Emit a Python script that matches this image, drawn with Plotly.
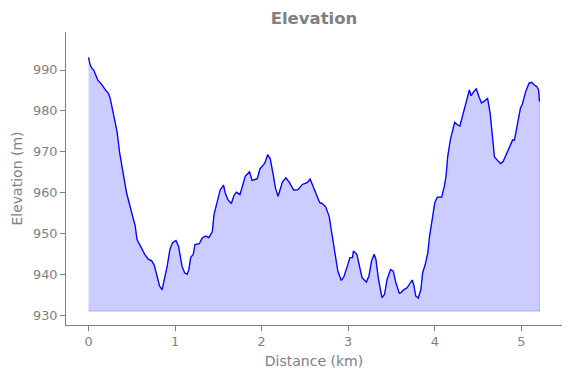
import plotly.graph_objects as go

distance_km = [0.00, 0.02, 0.04, 0.06, 0.09, 0.11, 0.14, 0.17, 0.20, 0.23, 0.25, 0.29, 0.33, 0.36,
               0.40, 0.44, 0.50, 0.54, 0.56, 0.60, 0.65, 0.69, 0.73, 0.76, 0.79, 0.82, 0.85, 0.87,
               0.91, 0.94, 0.97, 1.01, 1.04, 1.08, 1.11, 1.14, 1.16, 1.18, 1.21, 1.23, 1.28, 1.31,
               1.35, 1.39, 1.41, 1.43, 1.45, 1.48, 1.52, 1.56, 1.58, 1.61, 1.65, 1.68, 1.71, 1.75,
               1.77, 1.81, 1.86, 1.89, 1.95, 1.98, 2.02, 2.04, 2.07, 2.10, 2.13, 2.16, 2.19, 2.22,
               2.24, 2.28, 2.32, 2.37, 2.42, 2.47, 2.53, 2.56, 2.58, 2.62, 2.67, 2.70, 2.74, 2.78,
               2.81, 2.85, 2.88, 2.92, 2.95, 2.99, 3.02, 3.05, 3.06, 3.10, 3.12, 3.16, 3.21, 3.24,
               3.27, 3.30, 3.32, 3.35, 3.39, 3.42, 3.45, 3.49, 3.52, 3.55, 3.59, 3.61, 3.64, 3.68,
               3.72, 3.74, 3.76, 3.78, 3.81, 3.84, 3.86, 3.89, 3.92, 3.94, 3.97, 4.00, 4.03, 4.08,
               4.11, 4.13, 4.15, 4.18, 4.23, 4.26, 4.29, 4.32, 4.36, 4.40, 4.42, 4.45, 4.48, 4.51,
               4.54, 4.58, 4.61, 4.64, 4.67, 4.69, 4.72, 4.76, 4.79, 4.83, 4.87, 4.90, 4.92, 4.95,
               4.99, 5.01, 5.05, 5.09, 5.12, 5.15, 5.18, 5.20, 5.21]

elevation_m = [993.1, 991.2, 990.4, 990.0, 988.4, 987.4, 986.8, 985.8, 985.0, 984.3, 983.1, 979.0,
               974.9, 969.7, 964.8, 959.9, 955.0, 951.8, 948.5, 946.9, 944.9, 943.7, 943.3, 942.2,
               939.6, 937.2, 936.2, 938.0, 942.1, 946.1, 947.7, 948.3, 946.9, 942.0, 940.4, 940.0,
               941.2, 944.1, 944.9, 947.3, 947.5, 948.8, 949.4, 949.0, 949.8, 950.4, 954.6, 957.5,
               960.6, 961.8, 959.9, 958.3, 957.3, 959.3, 960.1, 959.5, 961.1, 964.0, 965.1, 963.0,
               963.4, 965.8, 966.8, 967.4, 969.3, 968.2, 964.8, 961.1, 959.1, 961.1, 962.6, 963.6,
               962.5, 960.6, 960.7, 962.0, 962.5, 963.3, 962.3, 959.9, 957.6, 957.3, 956.5, 954.2,
               950.2, 945.3, 940.8, 938.5, 939.4, 942.0, 944.1, 944.1, 945.7, 944.9, 942.9, 939.2,
               938.1, 939.6, 943.3, 944.9, 943.7, 938.8, 934.3, 935.1, 938.8, 941.2, 940.8, 938.0,
               935.4, 935.5, 936.2, 936.7, 938.0, 938.6, 937.2, 934.7, 934.2, 936.3, 940.4, 942.4,
               945.3, 949.3, 953.4, 957.5, 958.9, 958.9, 961.5, 964.0, 968.9, 972.9, 977.2, 976.6,
               976.3, 979.0, 981.9, 985.1, 983.7, 984.7, 985.4, 983.5, 981.9, 982.5, 983.1, 979.4,
               973.7, 968.7, 968.0, 967.1, 967.6, 969.7, 971.7, 972.9, 972.8, 976.2, 980.7, 981.5,
               984.7, 986.8, 987.0, 986.3, 985.9, 985.1, 982.3]

fill_base = 931
y_ticks = [930, 940, 950, 960, 970, 980, 990]
x_ticks = [0, 1, 2, 3, 4, 5]

GRAY = "#808080"

poly_x = distance_km + distance_km[::-1]
poly_y = elevation_m + [fill_base] * len(distance_km)

fig = go.Figure()
fig.add_trace(go.Scatter(
    x=poly_x, y=poly_y, mode="lines", fill="toself",
    fillcolor="rgba(0,0,255,0.2)",
    line=dict(color="rgba(0,0,255,0.2)", width=1.2),
    hoverinfo="skip", showlegend=False,
))
fig.add_trace(go.Scatter(
    x=distance_km, y=elevation_m, mode="lines",
    line=dict(color="#0000ff", width=1.3),
    showlegend=False,
))

# the page body adds an 8px offset; size the figure to fill the rest of the window
W, H = 563, 370
fig.update_layout(
    width=W, height=H,
    margin=dict(l=58, r=9, t=24, b=53),
    plot_bgcolor="white", paper_bgcolor="white",
    font=dict(family="DejaVu Sans", size=11.3, color=GRAY),
    title=dict(text="<b>Elevation</b>", x=306 / W, xanchor="center",
               y=1 - 10 / H, yanchor="middle", font=dict(size=16.5, color=GRAY)),
)
fig.update_xaxes(
    range=[-0.26, 5.47], tickvals=x_ticks, showgrid=False, zeroline=False,
    showline=True, linecolor=GRAY, linewidth=1, ticks="outside", ticklen=5,
    tickcolor=GRAY, tickfont=dict(size=12.8), automargin=False,
    title=dict(text="Distance (km)", standoff=7),
)
fig.update_yaxes(
    range=[927.6, 999.3], tickvals=y_ticks, showgrid=False, zeroline=False,
    showline=True, linecolor=GRAY, linewidth=1, ticks="outside", ticklen=5,
    tickcolor=GRAY, tickfont=dict(size=12.8), automargin=False,
    title=dict(text="Elevation (m)", standoff=7),
)

fig.write_html("out.html")
